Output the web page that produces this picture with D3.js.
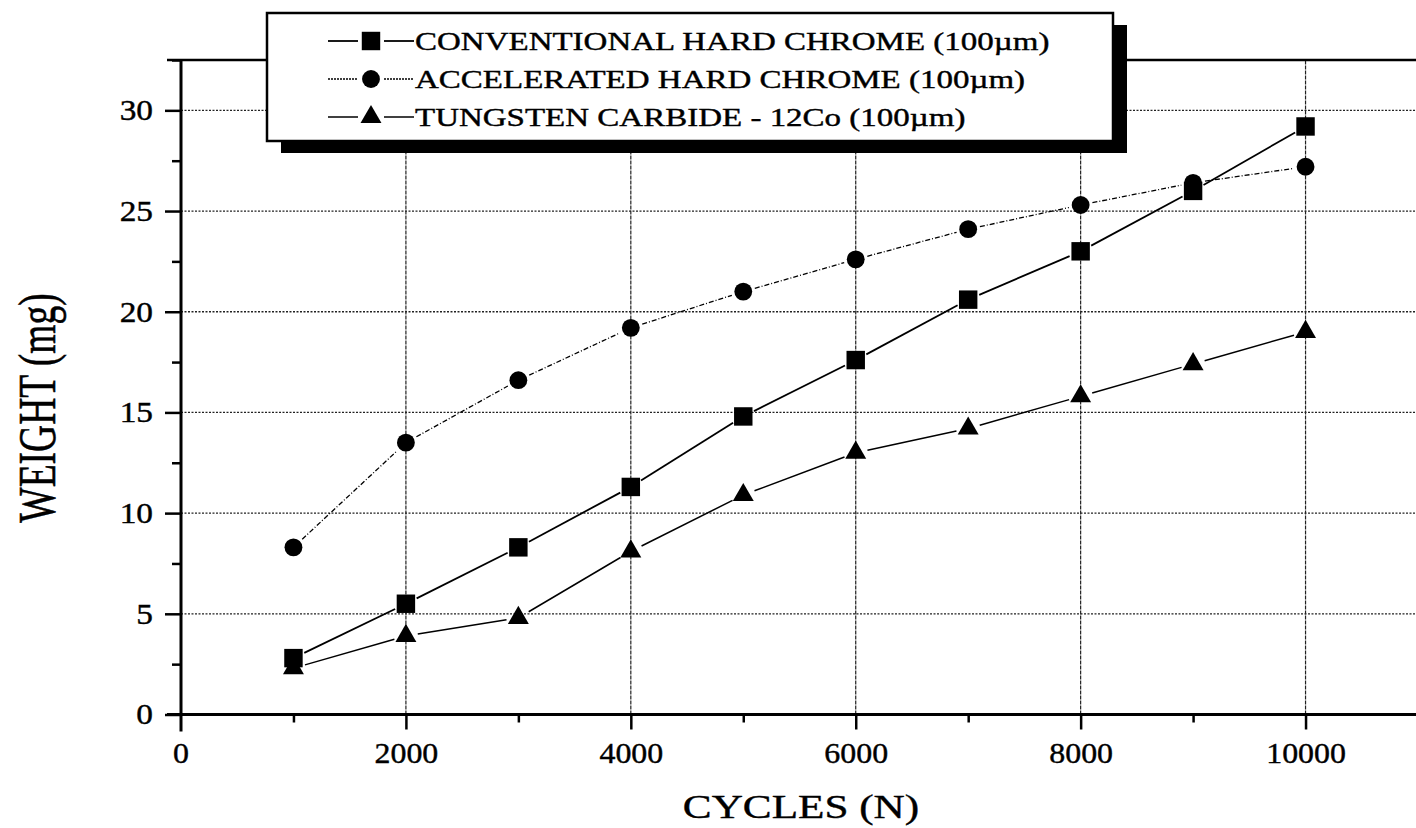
<!DOCTYPE html>
<html>
<head>
<meta charset="utf-8">
<script src="https://cdn.jsdelivr.net/npm/d3@7/dist/d3.min.js"></script>
<style>
    body { margin: 0; background: #fff; }
    svg { display: block; background: #fff; }
</style>
</head>
<body>
<svg width="1416" height="828"></svg>
<script>
// values
const cycles = [1000, 2000, 3000, 4000, 5000, 6000, 7000, 8000, 9000, 10000];
const conventional = [2.8, 5.5, 8.3, 11.3, 14.8, 17.6, 20.6, 23.0, 26.0, 29.2];
const accelerated = [8.3, 13.5, 16.6, 19.2, 21.0, 22.6, 24.1, 25.3, 26.4, 27.2];
const tungsten = [2.3, 3.9, 4.8, 8.1, 10.9, 13.0, 14.2, 15.8, 17.4, 19.0];

const seriesNames = [
    'CONVENTIONAL HARD CHROME (100\u00b5m)',
    'ACCELERATED HARD CHROME (100\u00b5m)',
    'TUNGSTEN CARBIDE - 12Co (100\u00b5m)'
];
const xTicks = [0, 2000, 4000, 6000, 8000, 10000];
const xMinorTicks = [1000, 3000, 5000, 7000, 9000];
const yTicks = [0, 5, 10, 15, 20, 25, 30];
const yMinorTicks = [2.5, 7.5, 12.5, 17.5, 22.5, 27.5, 32.5];

document.addEventListener('DOMContentLoaded', function() {
    let svg = d3.select('svg');
    const font = '"Liberation Serif", "Times New Roman", serif';

    let x = d3.scaleLinear().domain([0, 11000]).range([181, 1418]);
    let y = d3.scaleLinear().domain([0, 32.5]).range([714.5, 60]);

    // grid
    let grid = svg.append('g').attr('class', 'grid');
    grid.selectAll('line.h')
        .data(yTicks.filter(d => d > 0))
        .join('line')
        .attr('class', 'h')
        .attr('x1', x(0)).attr('x2', 1416)
        .attr('y1', d => y(d)).attr('y2', d => y(d))
        .attr('stroke', '#222')
        .attr('stroke-width', 1.3)
        .attr('stroke-dasharray', '2,1.5');
    grid.selectAll('line.v')
        .data(xTicks.filter(d => d > 0))
        .join('line')
        .attr('class', 'v')
        .attr('x1', d => x(d)).attr('x2', d => x(d))
        .attr('y1', y(0)).attr('y2', y(32.5))
        .attr('stroke', '#222')
        .attr('stroke-width', 1.2)
        .attr('stroke-dasharray', '4,1');

    // frame lines
    svg.append('line')
        .attr('x1', 167).attr('x2', 1416)
        .attr('y1', y(32.5)).attr('y2', y(32.5))
        .attr('stroke', '#000').attr('stroke-width', 2.5);
    svg.append('line')
        .attr('x1', x(0)).attr('x2', x(0))
        .attr('y1', y(32.5)).attr('y2', y(0) + 17)
        .attr('stroke', '#000').attr('stroke-width', 3);
    svg.append('line')
        .attr('x1', 167).attr('x2', 1416)
        .attr('y1', y(0)).attr('y2', y(0))
        .attr('stroke', '#000').attr('stroke-width', 3);

    // axes
    let yMinor = svg.append('g')
        .attr('transform', `translate(${x(0)},0)`)
        .call(d3.axisLeft(y).tickValues(yMinorTicks).tickSize(9).tickFormat(''));
    let yMajor = svg.append('g')
        .attr('transform', `translate(${x(0)},0)`)
        .call(d3.axisLeft(y).tickValues(yTicks).tickSize(16).tickPadding(12));
    let xMinor = svg.append('g')
        .attr('transform', `translate(0,${y(0)})`)
        .call(d3.axisBottom(x).tickValues(xMinorTicks).tickSize(8).tickFormat(''));
    let xMajor = svg.append('g')
        .attr('transform', `translate(0,${y(0)})`)
        .call(d3.axisBottom(x).tickValues(xTicks.filter(d => d > 0)).tickSize(15).tickPadding(13).tickFormat(d3.format('d')));

    [yMinor, yMajor, xMinor, xMajor].forEach(function(g) {
        g.select('.domain').remove();
        g.selectAll('.tick line').attr('stroke', '#000').attr('stroke-width', 2.5);
        g.selectAll('.tick text')
            .attr('fill', '#000')
            .attr('stroke', '#000')
            .attr('stroke-width', 0.4)
            .style('font-family', font)
            .style('font-size', '29px');
    });
    yMajor.selectAll('.tick text')
        .attr('x', -28 / 1.15)
        .attr('transform', 'scale(1.15,1)');
    xMajor.selectAll('.tick text')
        .attr('transform', 'scale(1.1,1)');
    // the "0" on the x axis sits under the axis corner without a tick
    svg.append('text')
        .attr('transform', `translate(${x(0)},${y(0) + 28}) scale(1.1,1)`)
        .attr('dy', '0.71em')
        .attr('text-anchor', 'middle')
        .attr('stroke', '#000').attr('stroke-width', 0.4)
        .style('font-family', font)
        .style('font-size', '29px')
        .text('0');

    // axis titles
    svg.append('text')
        .attr('transform', 'translate(801,818) scale(1.27,1)')
        .attr('text-anchor', 'middle')
        .attr('stroke', '#000').attr('stroke-width', 0.4)
        .style('font-family', font)
        .style('font-size', '34px')
        .text('CYCLES (N)');
    svg.append('text')
        .attr('transform', 'translate(55,408) scale(1.4,1) rotate(-90)')
        .attr('text-anchor', 'middle')
        .attr('stroke', '#000').attr('stroke-width', 0.4)
        .style('font-family', font)
        .style('font-size', '37.5px')
        .text('WEIGHT (mg)');

    // series
    let series = [
        { name: seriesNames[0], values: conventional, symbol: d3.symbolSquare, size: 340, dash: null, width: 1.8 },
        { name: seriesNames[1], values: accelerated, symbol: d3.symbolCircle, size: 250, dash: '5,2,1,2', width: 1.3 },
        { name: seriesNames[2], values: tungsten, symbol: d3.symbolTriangle, size: 190, dash: null, width: 1.5 }
    ];

    const gap = 12;
    series.forEach(function(s) {
        let pts = cycles.map((c, i) => [x(c), y(s.values[i])]);
        let segs = d3.pairs(pts).map(function(p) {
            let dx = p[1][0] - p[0][0], dy = p[1][1] - p[0][1];
            let len = Math.sqrt(dx * dx + dy * dy);
            let ux = dx / len, uy = dy / len;
            return [[p[0][0] + ux * gap, p[0][1] + uy * gap], [p[1][0] - ux * gap, p[1][1] - uy * gap]];
        });
        let g = svg.append('g').attr('class', 'series');
        g.selectAll('line')
            .data(segs)
            .join('line')
            .attr('x1', d => d[0][0]).attr('y1', d => d[0][1])
            .attr('x2', d => d[1][0]).attr('y2', d => d[1][1])
            .attr('stroke', '#000')
            .attr('stroke-width', s.width)
            .attr('stroke-dasharray', s.dash);
        g.selectAll('path')
            .data(pts)
            .join('path')
            .attr('transform', d => `translate(${d[0]},${d[1]})`)
            .attr('d', d3.symbol().type(s.symbol).size(s.size))
            .attr('fill', '#000');
    });

    // legend
    let legend = svg.append('g').attr('class', 'legend');
    legend.append('rect')
        .attr('x', 281).attr('y', 25).attr('width', 846).attr('height', 128)
        .attr('fill', '#000');
    legend.append('rect')
        .attr('x', 267).attr('y', 13).attr('width', 846).attr('height', 128)
        .attr('fill', '#fff').attr('stroke', '#000').attr('stroke-width', 2.5);

    let rows = legend.selectAll('g.row')
        .data(series)
        .join('g')
        .attr('class', 'row')
        .attr('transform', (d, i) => `translate(0,${41 + i * 38})`);
    rows.append('line')
        .attr('x1', 328).attr('x2', 358).attr('y1', 0).attr('y2', 0)
        .attr('stroke', '#000').attr('stroke-width', d => d.width)
        .attr('stroke-dasharray', d => d.dash ? '2,1' : null);
    rows.append('line')
        .attr('x1', 384).attr('x2', 414).attr('y1', 0).attr('y2', 0)
        .attr('stroke', '#000').attr('stroke-width', d => d.width)
        .attr('stroke-dasharray', d => d.dash ? '2,1' : null);
    rows.append('path')
        .attr('transform', 'translate(371,0)')
        .attr('d', d => d3.symbol().type(d.symbol).size(d.size)())
        .attr('fill', '#000');
    rows.append('text')
        .attr('transform', 'translate(415,9) scale(1.32,1)')
        .attr('stroke', '#000').attr('stroke-width', 0.4)
        .style('font-family', font)
        .style('font-size', '25px')
        .text(d => d.name);
});
</script>
</body>
</html>
